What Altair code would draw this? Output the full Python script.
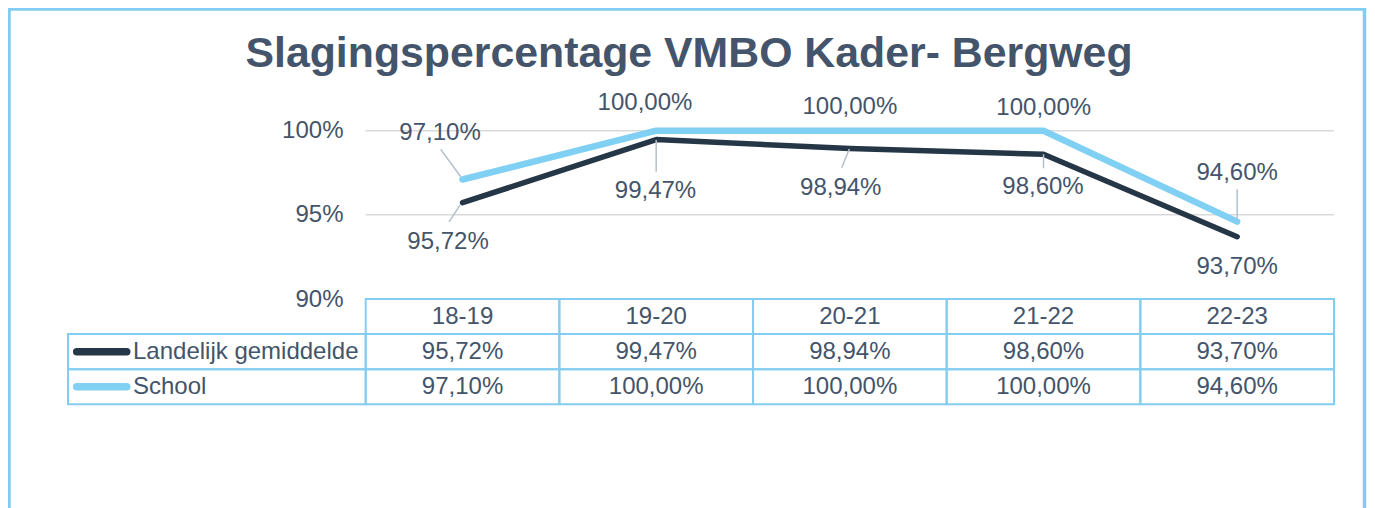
import altair as alt
import pandas as pd

# ---------------- data ----------------
categories = ["18-19", "19-20", "20-21", "21-22", "22-23"]
landelijk = [95.72, 99.47, 98.94, 98.60, 93.70]
school = [97.10, 100.00, 100.00, 100.00, 94.60]
series_names = ["Landelijk gemiddelde", "School"]
y_ticks = [90, 95, 100]
title_text = "Slagingspercentage VMBO Kader- Bergweg"

# ---------------- layout / style ----------------
W, H = 1355.5, 510
PLOT_X = [356.7, 1325.0]
PLOT_Y = [290.0, 121.7]      # pixel y of 90% and 100%
TABLE_Y = [290.0, 395.3]
LEGEND_X = [59.0, 356.7]
TITLE_X = [0, 1360]
TITLE_Y = 57.7
FONT = "Liberation Sans"
TEXT_COLOR = "#44546a"
LINE_COLORS = ["#253746", "#80d0f4"]
LINE_WIDTHS = [5.5, 6.5]
TABLE_COLOR = "#84cdf0"
GRID_COLOR = "#d9d9d9"
LEADER_COLOR = "#b4bfcc"
FS = 24
TITLE_FS = 42.8

label_offsets = {
    "Landelijk gemiddelde": [(-14.5, 39.7), (-0.7, 51.4), (-9.1, 39.2), (-0.5, 33.0), (0.0, 30.6)],
    "School": [(-22.5, -46.7), (-11.2, -28.0), (0.0, -24.0), (0.2, -22.4), (0.0, -48.9)],
}
leader_offsets = {
    ("Landelijk gemiddelde", 0): (-2.5, 2.4, -13.5, 19.1),
    ("Landelijk gemiddelde", 1): (0.0, 0.5, 0.0, 32.1),
    ("Landelijk gemiddelde", 2): (-0.5, 0.5, -8.1, 19.2),
    ("Landelijk gemiddelde", 3): (0.0, 0.0, 0.0, 14.0),
    ("School", 0): (-1.8, -2.7, -21.8, -30.1),
    ("School", 4): (0.0, -2.3, 0.0, -32.3),
}
LEG_SYM = (-140.15, -90.15)
LEG_TEXT_DX = -83.85


def fmt(v):
    return f"{v:.2f}".replace(".", ",") + "%"


rows = []
for s, vals in zip(series_names, [landelijk, school]):
    for c, v in zip(categories, vals):
        rows.append({"series": s, "cat": c, "value": v, "label": fmt(v), "row": s})
df = pd.DataFrame(rows)

row_domain = ["header"] + series_names
table_df = pd.concat(
    [pd.DataFrame({"cat": categories, "row": "header", "text": categories}),
     df[["cat", "row"]].assign(text=df["label"])],
    ignore_index=True,
)
leg_df = pd.DataFrame({"col": "legend", "row": series_names, "series": series_names})
grid_df = pd.DataFrame({"tick": [t for t in y_ticks if t > min(y_ticks)],
                        "first": categories[0], "last": categories[-1]})
title_df = pd.DataFrame({"t": [title_text]})

# ---------------- scales ----------------
x_pt = alt.Scale(type="point", domain=categories, range=PLOT_X, padding=0.5)
x_band = alt.Scale(type="band", domain=categories, range=PLOT_X, paddingInner=0, paddingOuter=0)
y_lin = alt.Scale(domain=[90, 100], range=PLOT_Y, zero=False, nice=False)
y_row_band = alt.Scale(type="band", domain=row_domain, range=TABLE_Y, paddingInner=0, paddingOuter=0)
y_row_pt = alt.Scale(type="point", domain=row_domain, range=TABLE_Y, padding=0.5)
x_leg_band = alt.Scale(type="band", domain=["legend"], range=LEGEND_X, paddingInner=0, paddingOuter=0)
x_leg_pt = alt.Scale(type="point", domain=["legend"], range=LEGEND_X, padding=0.5)
x_title = alt.Scale(type="point", domain=[title_text], range=TITLE_X, padding=0.5)
y_title = alt.Scale(type="point", domain=[title_text], range=[TITLE_Y - 10, TITLE_Y + 10], padding=0.5)
color = alt.Color("series:N", scale=alt.Scale(domain=series_names, range=LINE_COLORS), legend=None)
step = (PLOT_X[1] - PLOT_X[0]) / len(categories)

layers = []

# title
layers.append(
    alt.Chart(title_df).mark_text(font=FONT, fontSize=TITLE_FS, fontWeight="bold", color=TEXT_COLOR,
                                  align="center", baseline="alphabetic").encode(
        x=alt.X("t:N", scale=x_title, axis=None),
        y=alt.Y("t:N", scale=y_title, axis=None),
        text="t:N",
    )
)

# gridlines
layers.append(
    alt.Chart(grid_df).mark_rule(color=GRID_COLOR, strokeWidth=1.5,
                                 xOffset=-step / 2, x2Offset=step / 2).encode(
        x=alt.X("first:N", scale=x_pt, axis=None),
        x2="last:N",
        y=alt.Y("tick:Q", scale=y_lin, axis=None),
    )
)

# lines with y axis labels
yaxis = alt.Axis(values=y_ticks, orient="left", offset=-PLOT_X[0], domain=False, ticks=False,
                 tickSize=0, labelPadding=22.7, labelExpr="datum.value + '%'", labelFont=FONT,
                 labelFontSize=FS, labelColor=TEXT_COLOR, grid=False, title=None)
layers.append(
    alt.Chart(df).mark_line(strokeCap="round", strokeJoin="round").encode(
        x=alt.X("cat:N", scale=x_pt, axis=None),
        y=alt.Y("value:Q", scale=y_lin, axis=yaxis),
        color=color,
        strokeWidth=alt.StrokeWidth("series:N", scale=alt.Scale(domain=series_names, range=LINE_WIDTHS), legend=None),
    )
)

# leader lines
for (s, ci), (a, b, c2, d) in leader_offsets.items():
    c = categories[ci]
    layers.append(
        alt.Chart(df).transform_filter(
            f"datum.series == '{s}' && datum.cat == '{c}'"
        ).mark_rule(color=LEADER_COLOR, strokeWidth=1.5, xOffset=a, yOffset=b,
                    x2Offset=c2, y2Offset=d).encode(
            x=alt.X("cat:N", scale=x_pt, axis=None),
            x2="cat:N",
            y=alt.Y("value:Q", scale=y_lin, axis=None),
            y2="value:Q",
        )
    )

# data labels
for s in series_names:
    for ci, c in enumerate(categories):
        dx, dy = label_offsets[s][ci]
        layers.append(
            alt.Chart(df).transform_filter(
                f"datum.series == '{s}' && datum.cat == '{c}'"
            ).mark_text(dx=dx, dy=dy, font=FONT, fontSize=FS, color=TEXT_COLOR,
                        align="center", baseline="middle").encode(
                x=alt.X("cat:N", scale=x_pt, axis=None),
                y=alt.Y("value:Q", scale=y_lin, axis=None),
                text="label:N",
            )
        )

# data table cells
layers.append(
    alt.Chart(table_df).mark_rect(fillOpacity=0, stroke=TABLE_COLOR, strokeWidth=2).encode(
        x=alt.X("cat:N", scale=x_band, axis=None),
        y=alt.Y("row:N", scale=y_row_band, axis=None),
    )
)
layers.append(
    alt.Chart(table_df).mark_text(font=FONT, fontSize=FS, color=TEXT_COLOR,
                                  align="center", baseline="middle").encode(
        x=alt.X("cat:N", scale=x_pt, axis=None),
        y=alt.Y("row:N", scale=y_row_pt, axis=None),
        text="text:N",
    )
)

# legend column
layers.append(
    alt.Chart(leg_df).mark_rect(fillOpacity=0, stroke=TABLE_COLOR, strokeWidth=2).encode(
        x=alt.X("col:N", scale=x_leg_band, axis=None),
        y=alt.Y("row:N", scale=y_row_band, axis=None),
    )
)
layers.append(
    alt.Chart(leg_df).mark_rule(strokeWidth=7.5, strokeCap="round",
                                xOffset=LEG_SYM[0], x2Offset=LEG_SYM[1]).encode(
        x=alt.X("col:N", scale=x_leg_pt, axis=None),
        x2="col:N",
        y=alt.Y("row:N", scale=y_row_pt, axis=None),
        color=color,
    )
)
layers.append(
    alt.Chart(leg_df).mark_text(dx=LEG_TEXT_DX, font=FONT, fontSize=FS, color=TEXT_COLOR,
                                align="left", baseline="middle").encode(
        x=alt.X("col:N", scale=x_leg_pt, axis=None),
        y=alt.Y("row:N", scale=y_row_pt, axis=None),
        text="series:N",
    )
)

chart = alt.layer(*layers).resolve_scale(x="independent", y="independent").properties(
    width=W,
    height=H,
    padding={"left": 1, "top": 1, "right": 2.5, "bottom": 0},
    background="white",
).configure_view(stroke="#80cdf1", strokeWidth=3.5)

chart.save("out.html", embed_options={"renderer": "svg", "actions": False})
